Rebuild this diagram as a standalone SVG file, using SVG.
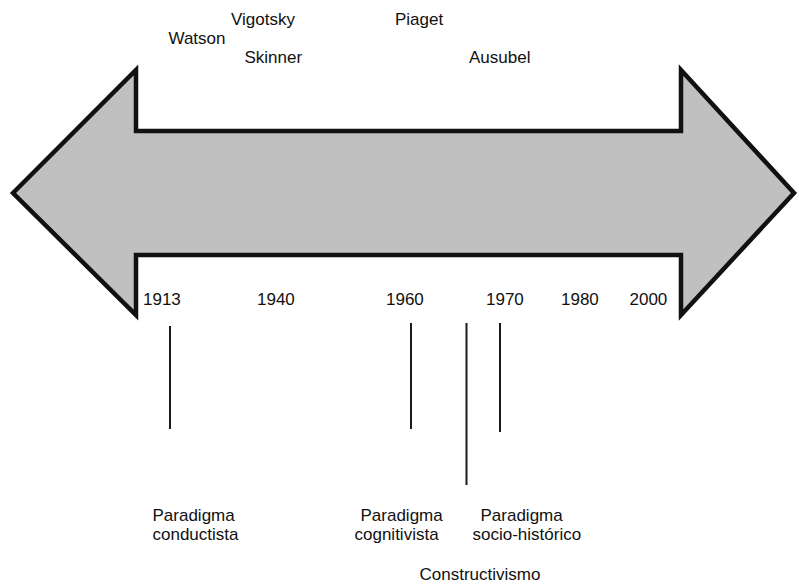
<svg xmlns="http://www.w3.org/2000/svg" width="799" height="584" viewBox="0 0 799 584">
<style>
text{font-family:"Liberation Sans",Arial,sans-serif;font-size:17px;fill:#111}
.tick{stroke:#1a1a1a;stroke-width:2}
</style>
<rect width="799" height="584" fill="#fff"/>
<g id="arrow">
<polygon points="13,193 136,70 136,131 681,131 681,70 794,193 681,315 681,255 136,255 136,315" fill="#c0c0c0" stroke="#111" stroke-width="4.5" stroke-linejoin="miter"/>
</g>
<g id="names">
<text x="168.5" y="44">Watson</text>
<text x="231" y="25">Vigotsky</text>
<text x="244.5" y="63">Skinner</text>
<text x="395" y="25">Piaget</text>
<text x="469" y="63">Ausubel</text>
</g>
<g id="years">
<text x="143" y="305">1913</text>
<text x="257" y="305">1940</text>
<text x="386" y="305">1960</text>
<text x="486" y="305">1970</text>
<text x="561" y="305">1980</text>
<text x="629.5" y="305">2000</text>
</g>
<g id="connectors">
<line class="tick" x1="170" y1="326" x2="170" y2="429"/>
<line class="tick" x1="411" y1="323" x2="411" y2="429"/>
<line class="tick" x1="466.5" y1="323" x2="466.5" y2="485"/>
<line class="tick" x1="500" y1="323" x2="500" y2="432"/>
</g>
<g id="conductista">
<text x="152.5" y="521">Paradigma</text>
<text x="152.5" y="540">conductista</text>
</g>
<g id="cognitivista">
<text x="360.5" y="521">Paradigma</text>
<text x="354.5" y="540">cognitivista</text>
</g>
<g id="sociohistorico">
<text x="480.5" y="521">Paradigma</text>
<text x="472.5" y="540">socio-histórico</text>
</g>
<g id="constructivismo">
<text x="419.5" y="580">Constructivismo</text>
</g>
</svg>
